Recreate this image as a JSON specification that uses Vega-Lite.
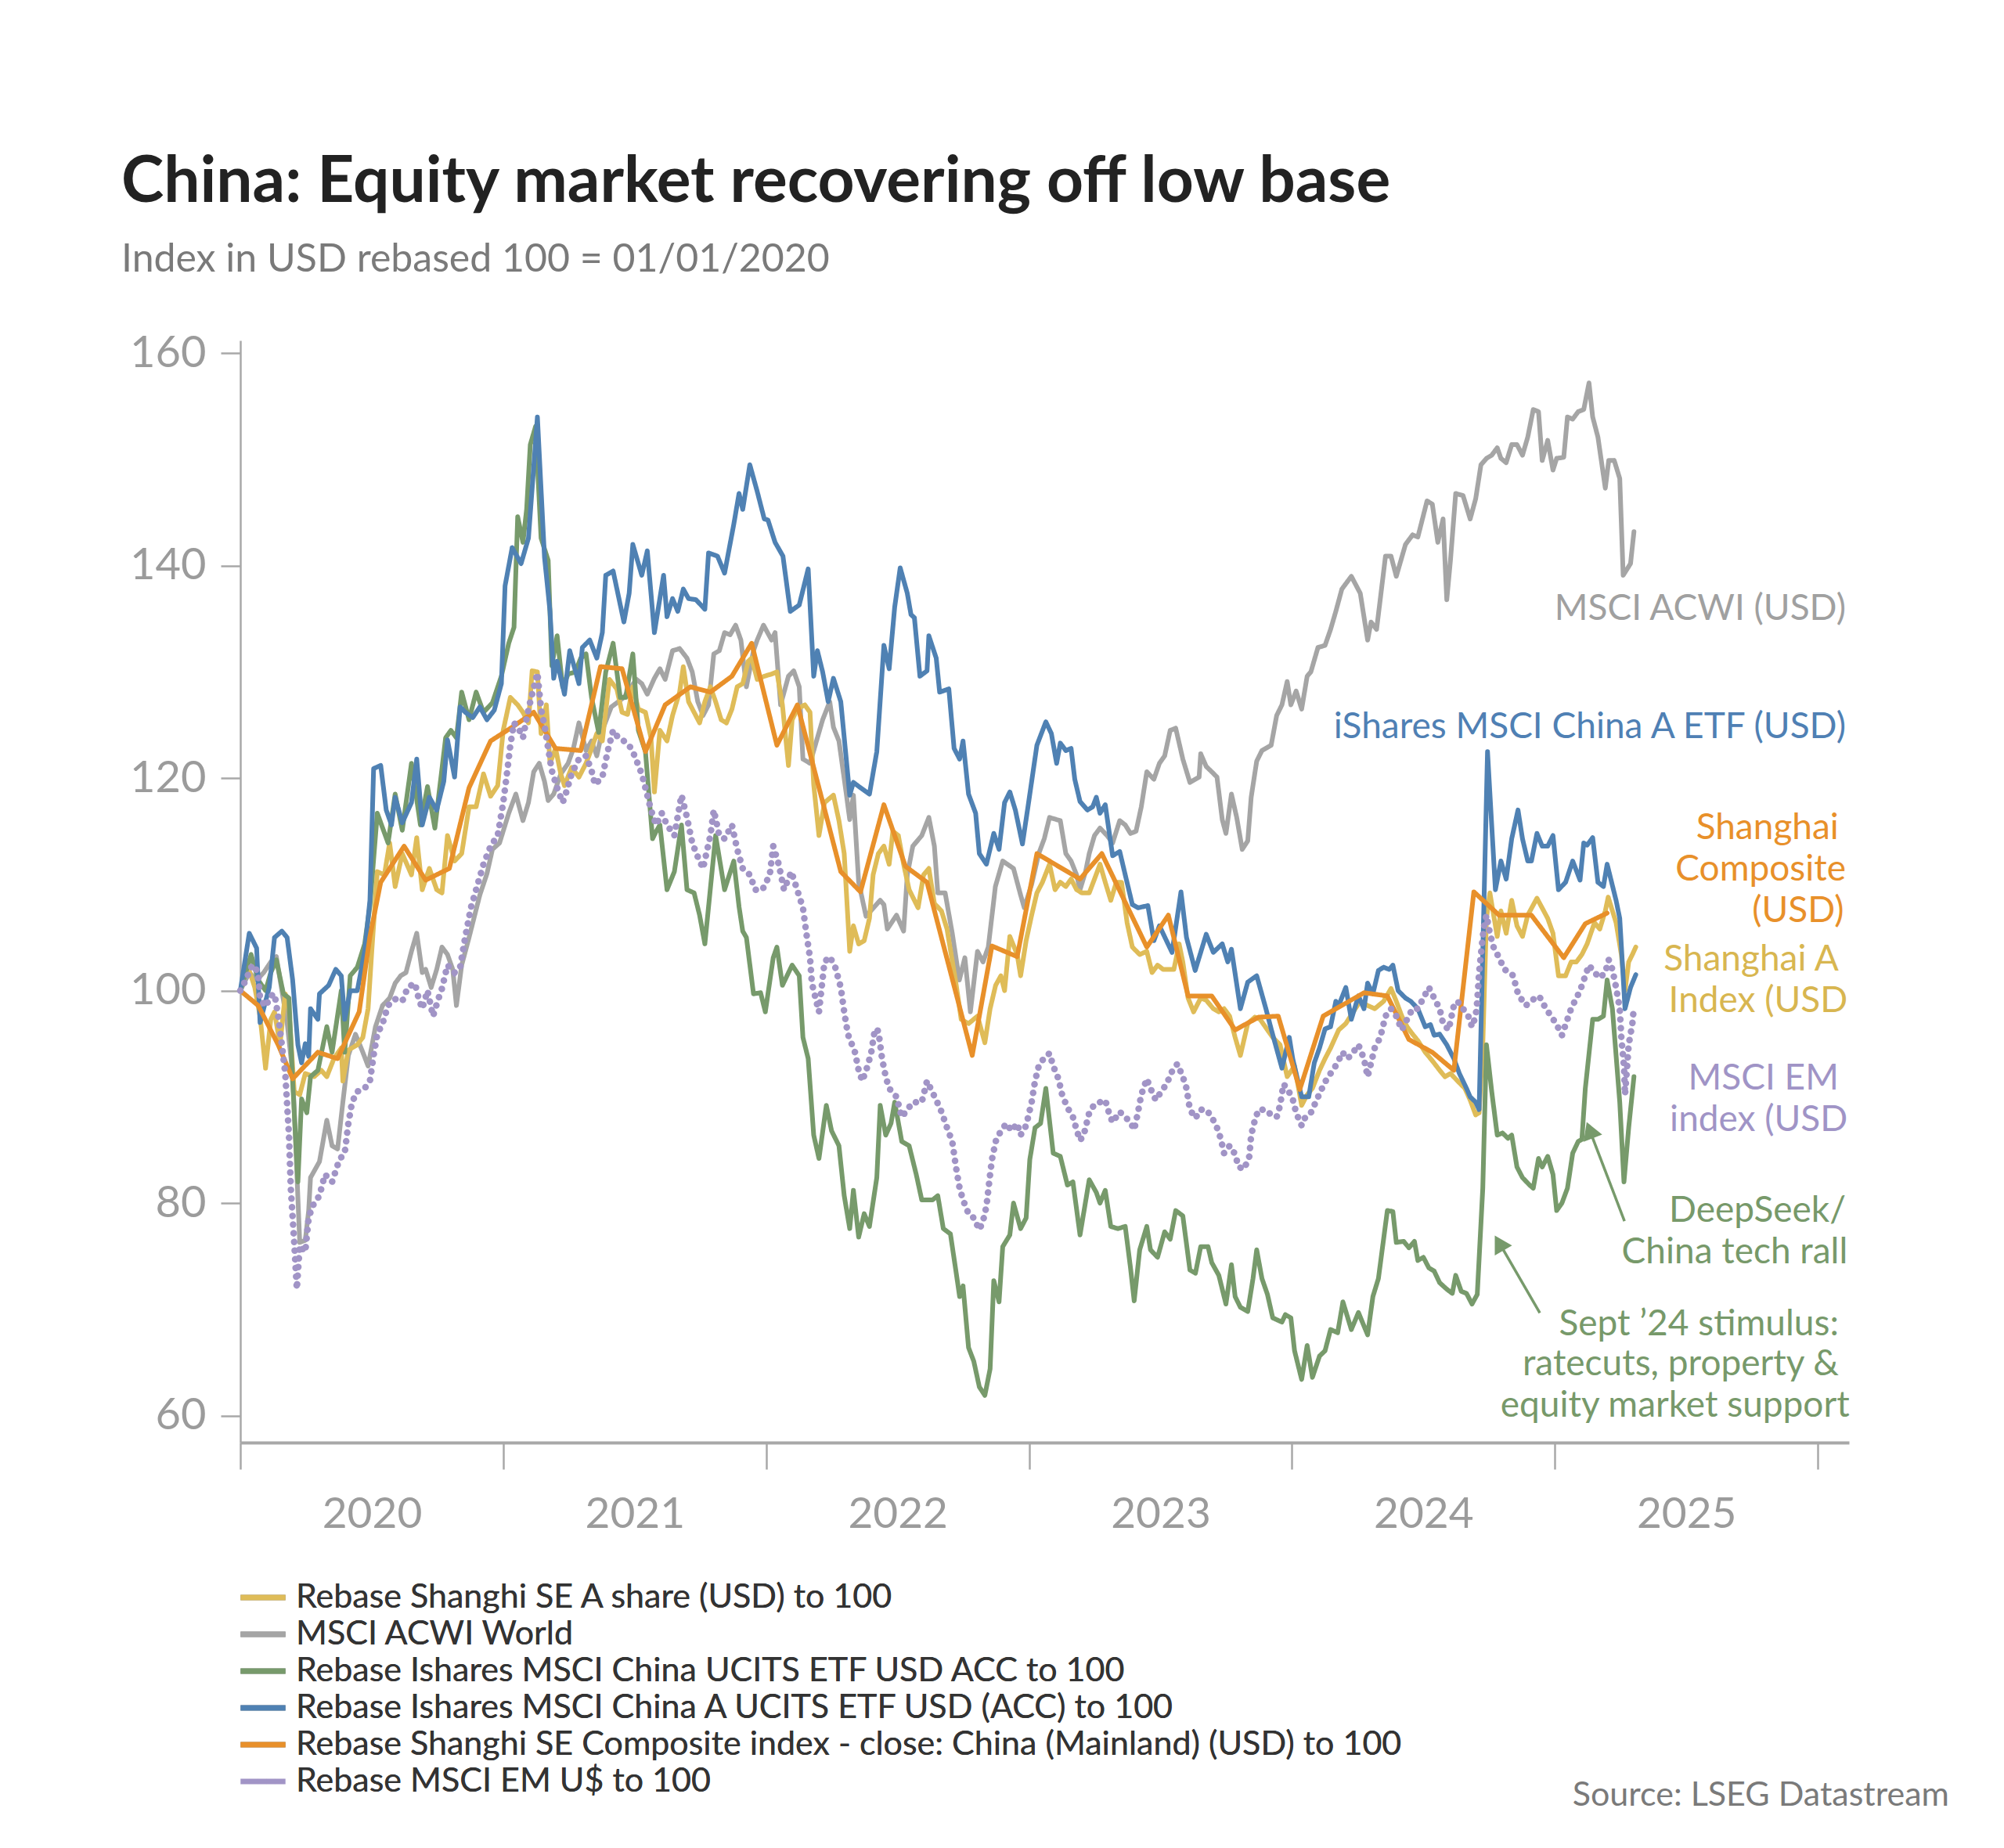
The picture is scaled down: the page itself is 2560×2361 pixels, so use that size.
{
  "$schema": "https://vega.github.io/schema/vega-lite/v6.json",
  "width": 2055,
  "height": 1408,
  "autosize": {"type": "none"},
  "padding": {"left": 307, "top": 435, "right": 198, "bottom": 518},
  "background": "white",
  "config": {"view": {"stroke": null}, "font": "Lato"},
  "title": {
    "text": "China: Equity market recovering off low base",
    "subtitle": "Index in USD rebased 100 = 01/01/2020",
    "anchor": "start",
    "frame": "group",
    "dx": -152,
    "offset": 65,
    "font": "Lato",
    "fontSize": 82,
    "fontWeight": "bold",
    "color": "#222222",
    "subtitleFont": "Lato",
    "subtitleFontSize": 50,
    "subtitleColor": "#7a7a7a",
    "subtitlePadding": 32
  },
  "datasets": {
    "series": [
      {"k":"gw","t":2020,"v":100},{"k":"gw","t":2020.034,"v":101.7},{"k":"gw","t":2020.062,"v":101},{"k":"gw","t":2020.089,"v":101.7},{"k":"gw","t":2020.116,"v":102.7},{"k":"gw","t":2020.137,"v":103.2},{"k":"gw","t":2020.158,"v":100},{"k":"gw","t":2020.178,"v":97},{"k":"gw","t":2020.199,"v":92.2},{"k":"gw","t":2020.212,"v":84.7},{"k":"gw","t":2020.226,"v":76.3},{"k":"gw","t":2020.247,"v":76.5},{"k":"gw","t":2020.26,"v":79.3},{"k":"gw","t":2020.267,"v":82.4},{"k":"gw","t":2020.301,"v":83.9},{"k":"gw","t":2020.329,"v":87.8},{"k":"gw","t":2020.349,"v":85.4},{"k":"gw","t":2020.37,"v":85.1},{"k":"gw","t":2020.39,"v":89.5},{"k":"gw","t":2020.411,"v":93.9},{"k":"gw","t":2020.438,"v":95.9},{"k":"gw","t":2020.466,"v":94.2},{"k":"gw","t":2020.486,"v":92.9},{"k":"gw","t":2020.514,"v":96.6},{"k":"gw","t":2020.541,"v":98.6},{"k":"gw","t":2020.568,"v":99.3},{"k":"gw","t":2020.589,"v":100.7},{"k":"gw","t":2020.61,"v":101.4},{"k":"gw","t":2020.63,"v":101.7},{"k":"gw","t":2020.651,"v":103.7},{"k":"gw","t":2020.671,"v":105.4},{"k":"gw","t":2020.692,"v":101.7},{"k":"gw","t":2020.705,"v":102},{"k":"gw","t":2020.726,"v":100.3},{"k":"gw","t":2020.747,"v":102},{"k":"gw","t":2020.767,"v":104.1},{"k":"gw","t":2020.788,"v":103.4},{"k":"gw","t":2020.808,"v":102},{"k":"gw","t":2020.822,"v":98.6},{"k":"gw","t":2020.842,"v":102.4},{"k":"gw","t":2020.87,"v":105},{"k":"gw","t":2020.911,"v":109},{"k":"gw","t":2020.938,"v":111},{"k":"gw","t":2020.959,"v":113.3},{"k":"gw","t":2020.986,"v":113.9},{"k":"gw","t":2021.021,"v":116.7},{"k":"gw","t":2021.048,"v":118.5},{"k":"gw","t":2021.075,"v":116},{"k":"gw","t":2021.096,"v":117.7},{"k":"gw","t":2021.116,"v":120.6},{"k":"gw","t":2021.137,"v":121.4},{"k":"gw","t":2021.157,"v":119.7},{"k":"gw","t":2021.171,"v":117.9},{"k":"gw","t":2021.192,"v":118.5},{"k":"gw","t":2021.219,"v":120.4},{"k":"gw","t":2021.247,"v":121.4},{"k":"gw","t":2021.267,"v":122.8},{"k":"gw","t":2021.288,"v":125.2},{"k":"gw","t":2021.315,"v":122.6},{"k":"gw","t":2021.336,"v":123.5},{"k":"gw","t":2021.356,"v":122.1},{"k":"gw","t":2021.377,"v":124.5},{"k":"gw","t":2021.411,"v":126.7},{"k":"gw","t":2021.438,"v":127.2},{"k":"gw","t":2021.459,"v":127.6},{"k":"gw","t":2021.486,"v":128.6},{"k":"gw","t":2021.507,"v":129.3},{"k":"gw","t":2021.527,"v":128.9},{"k":"gw","t":2021.548,"v":127.9},{"k":"gw","t":2021.575,"v":129.4},{"k":"gw","t":2021.596,"v":130.3},{"k":"gw","t":2021.616,"v":129.3},{"k":"gw","t":2021.644,"v":132},{"k":"gw","t":2021.671,"v":132.2},{"k":"gw","t":2021.699,"v":131.3},{"k":"gw","t":2021.719,"v":130},{"k":"gw","t":2021.74,"v":127.2},{"k":"gw","t":2021.76,"v":125.9},{"k":"gw","t":2021.781,"v":126.9},{"k":"gw","t":2021.801,"v":131.7},{"k":"gw","t":2021.822,"v":132},{"k":"gw","t":2021.842,"v":133.7},{"k":"gw","t":2021.863,"v":133.5},{"k":"gw","t":2021.884,"v":134.4},{"k":"gw","t":2021.904,"v":133},{"k":"gw","t":2021.925,"v":128.6},{"k":"gw","t":2021.952,"v":132},{"k":"gw","t":2021.966,"v":133},{"k":"gw","t":2021.99,"v":134.4},{"k":"gw","t":2022.021,"v":133},{"k":"gw","t":2022.034,"v":133.7},{"k":"gw","t":2022.055,"v":126.9},{"k":"gw","t":2022.085,"v":129.6},{"k":"gw","t":2022.105,"v":130.1},{"k":"gw","t":2022.126,"v":128.6},{"k":"gw","t":2022.14,"v":121.8},{"k":"gw","t":2022.167,"v":121.4},{"k":"gw","t":2022.215,"v":125.5},{"k":"gw","t":2022.242,"v":127.2},{"k":"gw","t":2022.256,"v":124.8},{"k":"gw","t":2022.277,"v":123.5},{"k":"gw","t":2022.304,"v":118.7},{"k":"gw","t":2022.318,"v":116.1},{"k":"gw","t":2022.332,"v":118.4},{"k":"gw","t":2022.352,"v":110.2},{"k":"gw","t":2022.38,"v":107},{"k":"gw","t":2022.434,"v":108.5},{"k":"gw","t":2022.448,"v":108.1},{"k":"gw","t":2022.461,"v":105.8},{"k":"gw","t":2022.496,"v":107.1},{"k":"gw","t":2022.523,"v":105.6},{"k":"gw","t":2022.537,"v":110.9},{"k":"gw","t":2022.558,"v":113.6},{"k":"gw","t":2022.592,"v":114.6},{"k":"gw","t":2022.619,"v":116.3},{"k":"gw","t":2022.64,"v":113.6},{"k":"gw","t":2022.653,"v":109.2},{"k":"gw","t":2022.681,"v":109.2},{"k":"gw","t":2022.708,"v":105.4},{"k":"gw","t":2022.735,"v":101},{"k":"gw","t":2022.756,"v":103.1},{"k":"gw","t":2022.777,"v":98},{"k":"gw","t":2022.804,"v":103.7},{"k":"gw","t":2022.825,"v":102.7},{"k":"gw","t":2022.845,"v":104.1},{"k":"gw","t":2022.866,"v":108.5},{"k":"gw","t":2022.872,"v":109.8},{"k":"gw","t":2022.9,"v":112.2},{"k":"gw","t":2022.941,"v":111.5},{"k":"gw","t":2022.968,"v":109},{"k":"gw","t":2022.982,"v":107.8},{"k":"gw","t":2023.01,"v":110},{"k":"gw","t":2023.037,"v":112.9},{"k":"gw","t":2023.058,"v":114.3},{"k":"gw","t":2023.078,"v":116.3},{"k":"gw","t":2023.119,"v":116},{"k":"gw","t":2023.14,"v":112.9},{"k":"gw","t":2023.16,"v":112.2},{"k":"gw","t":2023.181,"v":110.9},{"k":"gw","t":2023.194,"v":109.5},{"k":"gw","t":2023.215,"v":111.2},{"k":"gw","t":2023.229,"v":112.9},{"k":"gw","t":2023.249,"v":114.6},{"k":"gw","t":2023.27,"v":115.3},{"k":"gw","t":2023.297,"v":114.6},{"k":"gw","t":2023.318,"v":113.9},{"k":"gw","t":2023.345,"v":116},{"k":"gw","t":2023.366,"v":115.6},{"k":"gw","t":2023.386,"v":114.8},{"k":"gw","t":2023.407,"v":115},{"k":"gw","t":2023.427,"v":117.3},{"k":"gw","t":2023.448,"v":120.6},{"k":"gw","t":2023.475,"v":119.9},{"k":"gw","t":2023.496,"v":121.4},{"k":"gw","t":2023.516,"v":122.1},{"k":"gw","t":2023.537,"v":124.5},{"k":"gw","t":2023.558,"v":124.7},{"k":"gw","t":2023.585,"v":121.8},{"k":"gw","t":2023.612,"v":119.6},{"k":"gw","t":2023.647,"v":120.1},{"k":"gw","t":2023.653,"v":122.3},{"k":"gw","t":2023.674,"v":121.1},{"k":"gw","t":2023.695,"v":120.6},{"k":"gw","t":2023.715,"v":120.1},{"k":"gw","t":2023.735,"v":116.1},{"k":"gw","t":2023.749,"v":114.8},{"k":"gw","t":2023.77,"v":118.5},{"k":"gw","t":2023.79,"v":116.3},{"k":"gw","t":2023.811,"v":113.3},{"k":"gw","t":2023.832,"v":114.1},{"k":"gw","t":2023.845,"v":118.2},{"k":"gw","t":2023.866,"v":121.6},{"k":"gw","t":2023.886,"v":122.6},{"k":"gw","t":2023.921,"v":123.1},{"k":"gw","t":2023.942,"v":125.9},{"k":"gw","t":2023.962,"v":126.9},{"k":"gw","t":2023.982,"v":129.1},{"k":"gw","t":2023.996,"v":126.9},{"k":"gw","t":2024.016,"v":128.2},{"k":"gw","t":2024.037,"v":126.5},{"k":"gw","t":2024.058,"v":129.6},{"k":"gw","t":2024.072,"v":130},{"k":"gw","t":2024.099,"v":132.3},{"k":"gw","t":2024.126,"v":132.5},{"k":"gw","t":2024.147,"v":134},{"k":"gw","t":2024.167,"v":135.7},{"k":"gw","t":2024.19,"v":137.8},{"k":"gw","t":2024.226,"v":139},{"k":"gw","t":2024.26,"v":137.4},{"k":"gw","t":2024.288,"v":133},{"k":"gw","t":2024.301,"v":134.7},{"k":"gw","t":2024.322,"v":134},{"k":"gw","t":2024.356,"v":140.9},{"k":"gw","t":2024.377,"v":140.9},{"k":"gw","t":2024.397,"v":139},{"k":"gw","t":2024.432,"v":142},{"k":"gw","t":2024.459,"v":142.9},{"k":"gw","t":2024.479,"v":142.7},{"k":"gw","t":2024.514,"v":146.1},{"k":"gw","t":2024.534,"v":145.8},{"k":"gw","t":2024.555,"v":142.2},{"k":"gw","t":2024.575,"v":144.4},{"k":"gw","t":2024.589,"v":136.8},{"k":"gw","t":2024.603,"v":140.5},{"k":"gw","t":2024.623,"v":146.8},{"k":"gw","t":2024.651,"v":146.6},{"k":"gw","t":2024.678,"v":144.4},{"k":"gw","t":2024.699,"v":146.3},{"k":"gw","t":2024.719,"v":149.5},{"k":"gw","t":2024.74,"v":150.1},{"k":"gw","t":2024.76,"v":150.4},{"k":"gw","t":2024.781,"v":151.1},{"k":"gw","t":2024.795,"v":150.1},{"k":"gw","t":2024.815,"v":149.7},{"k":"gw","t":2024.836,"v":151.4},{"k":"gw","t":2024.856,"v":151.4},{"k":"gw","t":2024.877,"v":150.4},{"k":"gw","t":2024.897,"v":152.1},{"k":"gw","t":2024.918,"v":154.7},{"k":"gw","t":2024.938,"v":154.5},{"k":"gw","t":2024.952,"v":149.9},{"k":"gw","t":2024.973,"v":151.8},{"k":"gw","t":2024.993,"v":149},{"k":"gw","t":2025.007,"v":150.1},{"k":"gw","t":2025.034,"v":150.2},{"k":"gw","t":2025.048,"v":154},{"k":"gw","t":2025.068,"v":153.8},{"k":"gw","t":2025.089,"v":154.5},{"k":"gw","t":2025.11,"v":154.7},{"k":"gw","t":2025.13,"v":157.2},{"k":"gw","t":2025.144,"v":154},{"k":"gw","t":2025.164,"v":152.1},{"k":"gw","t":2025.192,"v":147.3},{"k":"gw","t":2025.205,"v":149.9},{"k":"gw","t":2025.226,"v":149.9},{"k":"gw","t":2025.247,"v":148.2},{"k":"gw","t":2025.26,"v":139.1},{"k":"gw","t":2025.288,"v":140.2},{"k":"gw","t":2025.301,"v":143.2},

      {"k":"ya","t":2020,"v":100},{"k":"ya","t":2020.027,"v":102.4},{"k":"ya","t":2020.055,"v":100.3},{"k":"ya","t":2020.075,"v":97.6},{"k":"ya","t":2020.096,"v":92.7},{"k":"ya","t":2020.116,"v":97.3},{"k":"ya","t":2020.13,"v":98},{"k":"ya","t":2020.151,"v":94.9},{"k":"ya","t":2020.171,"v":99.7},{"k":"ya","t":2020.185,"v":98.3},{"k":"ya","t":2020.205,"v":90.5},{"k":"ya","t":2020.226,"v":90.2},{"k":"ya","t":2020.247,"v":92.2},{"k":"ya","t":2020.281,"v":91.9},{"k":"ya","t":2020.308,"v":92.5},{"k":"ya","t":2020.329,"v":91.9},{"k":"ya","t":2020.356,"v":93.6},{"k":"ya","t":2020.384,"v":94.6},{"k":"ya","t":2020.39,"v":91.5},{"k":"ya","t":2020.411,"v":94.4},{"k":"ya","t":2020.445,"v":94.9},{"k":"ya","t":2020.466,"v":95.6},{"k":"ya","t":2020.486,"v":98.3},{"k":"ya","t":2020.5,"v":103.7},{"k":"ya","t":2020.521,"v":111.2},{"k":"ya","t":2020.548,"v":110.9},{"k":"ya","t":2020.568,"v":113.9},{"k":"ya","t":2020.589,"v":109.8},{"k":"ya","t":2020.616,"v":112.9},{"k":"ya","t":2020.651,"v":110.9},{"k":"ya","t":2020.671,"v":114.4},{"k":"ya","t":2020.692,"v":109.5},{"k":"ya","t":2020.719,"v":111.5},{"k":"ya","t":2020.747,"v":109.5},{"k":"ya","t":2020.767,"v":109.2},{"k":"ya","t":2020.788,"v":114.6},{"k":"ya","t":2020.815,"v":112.2},{"k":"ya","t":2020.842,"v":112.9},{"k":"ya","t":2020.87,"v":117.3},{"k":"ya","t":2020.897,"v":117.3},{"k":"ya","t":2020.925,"v":120.4},{"k":"ya","t":2020.952,"v":118.3},{"k":"ya","t":2020.979,"v":119.3},{"k":"ya","t":2021,"v":124.5},{"k":"ya","t":2021.027,"v":127.6},{"k":"ya","t":2021.055,"v":126.9},{"k":"ya","t":2021.075,"v":126.2},{"k":"ya","t":2021.096,"v":125.2},{"k":"ya","t":2021.11,"v":130.1},{"k":"ya","t":2021.13,"v":130},{"k":"ya","t":2021.144,"v":124.2},{"k":"ya","t":2021.164,"v":126.9},{"k":"ya","t":2021.178,"v":121.4},{"k":"ya","t":2021.199,"v":122.8},{"k":"ya","t":2021.219,"v":120.4},{"k":"ya","t":2021.233,"v":119.3},{"k":"ya","t":2021.26,"v":121},{"k":"ya","t":2021.288,"v":120.1},{"k":"ya","t":2021.315,"v":121.4},{"k":"ya","t":2021.329,"v":122.3},{"k":"ya","t":2021.356,"v":124.2},{"k":"ya","t":2021.377,"v":123.5},{"k":"ya","t":2021.404,"v":129.3},{"k":"ya","t":2021.432,"v":128.4},{"k":"ya","t":2021.452,"v":126.2},{"k":"ya","t":2021.473,"v":126},{"k":"ya","t":2021.493,"v":128.6},{"k":"ya","t":2021.514,"v":126.5},{"k":"ya","t":2021.541,"v":126.2},{"k":"ya","t":2021.562,"v":123.8},{"k":"ya","t":2021.575,"v":118.7},{"k":"ya","t":2021.596,"v":124.5},{"k":"ya","t":2021.623,"v":123.5},{"k":"ya","t":2021.644,"v":125.9},{"k":"ya","t":2021.671,"v":128.1},{"k":"ya","t":2021.685,"v":130.5},{"k":"ya","t":2021.705,"v":127.2},{"k":"ya","t":2021.726,"v":126.2},{"k":"ya","t":2021.747,"v":125.2},{"k":"ya","t":2021.767,"v":127.2},{"k":"ya","t":2021.788,"v":128.6},{"k":"ya","t":2021.808,"v":127.2},{"k":"ya","t":2021.829,"v":125.5},{"k":"ya","t":2021.849,"v":125.2},{"k":"ya","t":2021.87,"v":126.5},{"k":"ya","t":2021.89,"v":128.6},{"k":"ya","t":2021.911,"v":128.9},{"k":"ya","t":2021.932,"v":131},{"k":"ya","t":2021.945,"v":131.3},{"k":"ya","t":2021.966,"v":129.3},{"k":"ya","t":2021.993,"v":129.6},{"k":"ya","t":2022.021,"v":129.8},{"k":"ya","t":2022.041,"v":130},{"k":"ya","t":2022.062,"v":126.9},{"k":"ya","t":2022.085,"v":121.2},{"k":"ya","t":2022.099,"v":125.5},{"k":"ya","t":2022.119,"v":126.5},{"k":"ya","t":2022.147,"v":126.9},{"k":"ya","t":2022.167,"v":126.2},{"k":"ya","t":2022.181,"v":119.4},{"k":"ya","t":2022.201,"v":114.6},{"k":"ya","t":2022.222,"v":117.7},{"k":"ya","t":2022.256,"v":118.4},{"k":"ya","t":2022.277,"v":116},{"k":"ya","t":2022.297,"v":112.9},{"k":"ya","t":2022.318,"v":103.7},{"k":"ya","t":2022.332,"v":106.1},{"k":"ya","t":2022.352,"v":104.4},{"k":"ya","t":2022.373,"v":104.7},{"k":"ya","t":2022.393,"v":106.8},{"k":"ya","t":2022.407,"v":110.9},{"k":"ya","t":2022.427,"v":112.9},{"k":"ya","t":2022.448,"v":113.6},{"k":"ya","t":2022.468,"v":111.9},{"k":"ya","t":2022.482,"v":115},{"k":"ya","t":2022.503,"v":114.6},{"k":"ya","t":2022.523,"v":111.9},{"k":"ya","t":2022.544,"v":109.5},{"k":"ya","t":2022.578,"v":107.8},{"k":"ya","t":2022.599,"v":110.9},{"k":"ya","t":2022.619,"v":111.5},{"k":"ya","t":2022.64,"v":108.2},{"k":"ya","t":2022.667,"v":107.5},{"k":"ya","t":2022.688,"v":105.8},{"k":"ya","t":2022.722,"v":100.7},{"k":"ya","t":2022.742,"v":97.3},{"k":"ya","t":2022.77,"v":96.9},{"k":"ya","t":2022.804,"v":97.6},{"k":"ya","t":2022.832,"v":95.1},{"k":"ya","t":2022.852,"v":98.3},{"k":"ya","t":2022.873,"v":100.5},{"k":"ya","t":2022.893,"v":101.4},{"k":"ya","t":2022.907,"v":100},{"k":"ya","t":2022.927,"v":105.1},{"k":"ya","t":2022.955,"v":103.4},{"k":"ya","t":2022.968,"v":101.4},{"k":"ya","t":2022.989,"v":104.7},{"k":"ya","t":2023.01,"v":107.1},{"k":"ya","t":2023.03,"v":109.2},{"k":"ya","t":2023.051,"v":110.2},{"k":"ya","t":2023.078,"v":111.9},{"k":"ya","t":2023.099,"v":109.5},{"k":"ya","t":2023.119,"v":110.2},{"k":"ya","t":2023.14,"v":109.8},{"k":"ya","t":2023.16,"v":110.5},{"k":"ya","t":2023.181,"v":109.5},{"k":"ya","t":2023.201,"v":109.2},{"k":"ya","t":2023.229,"v":109.2},{"k":"ya","t":2023.249,"v":110.5},{"k":"ya","t":2023.27,"v":111.9},{"k":"ya","t":2023.29,"v":110.2},{"k":"ya","t":2023.311,"v":108.5},{"k":"ya","t":2023.332,"v":110.2},{"k":"ya","t":2023.352,"v":110.2},{"k":"ya","t":2023.373,"v":106.4},{"k":"ya","t":2023.393,"v":104.1},{"k":"ya","t":2023.421,"v":103.4},{"k":"ya","t":2023.448,"v":103.7},{"k":"ya","t":2023.468,"v":101.7},{"k":"ya","t":2023.489,"v":102.4},{"k":"ya","t":2023.51,"v":102},{"k":"ya","t":2023.551,"v":102},{"k":"ya","t":2023.571,"v":104.4},{"k":"ya","t":2023.585,"v":102.7},{"k":"ya","t":2023.605,"v":99.3},{"k":"ya","t":2023.626,"v":98},{"k":"ya","t":2023.653,"v":99.3},{"k":"ya","t":2023.674,"v":99.1},{"k":"ya","t":2023.701,"v":98.3},{"k":"ya","t":2023.722,"v":98},{"k":"ya","t":2023.742,"v":98.3},{"k":"ya","t":2023.763,"v":97.6},{"k":"ya","t":2023.784,"v":95.6},{"k":"ya","t":2023.804,"v":93.9},{"k":"ya","t":2023.832,"v":96.9},{"k":"ya","t":2023.859,"v":97.5},{"k":"ya","t":2023.879,"v":97.3},{"k":"ya","t":2023.907,"v":96.3},{"k":"ya","t":2023.927,"v":95.6},{"k":"ya","t":2023.955,"v":94.9},{"k":"ya","t":2023.982,"v":91.9},{"k":"ya","t":2024.01,"v":92.9},{"k":"ya","t":2024.037,"v":89.2},{"k":"ya","t":2024.058,"v":90.2},{"k":"ya","t":2024.078,"v":90.8},{"k":"ya","t":2024.105,"v":92.5},{"k":"ya","t":2024.126,"v":93.6},{"k":"ya","t":2024.147,"v":94.6},{"k":"ya","t":2024.178,"v":96.3},{"k":"ya","t":2024.205,"v":96.9},{"k":"ya","t":2024.233,"v":98},{"k":"ya","t":2024.26,"v":99},{"k":"ya","t":2024.288,"v":98.6},{"k":"ya","t":2024.315,"v":98.3},{"k":"ya","t":2024.349,"v":99},{"k":"ya","t":2024.377,"v":100.2},{"k":"ya","t":2024.397,"v":99},{"k":"ya","t":2024.418,"v":97.6},{"k":"ya","t":2024.438,"v":96.6},{"k":"ya","t":2024.459,"v":95.9},{"k":"ya","t":2024.479,"v":95.3},{"k":"ya","t":2024.507,"v":94.2},{"k":"ya","t":2024.534,"v":93.4},{"k":"ya","t":2024.562,"v":92.5},{"k":"ya","t":2024.582,"v":91.9},{"k":"ya","t":2024.603,"v":92.2},{"k":"ya","t":2024.63,"v":91.5},{"k":"ya","t":2024.658,"v":90.8},{"k":"ya","t":2024.678,"v":89.7},{"k":"ya","t":2024.699,"v":88.3},{"k":"ya","t":2024.712,"v":88.5},{"k":"ya","t":2024.726,"v":94.9},{"k":"ya","t":2024.74,"v":106.8},{"k":"ya","t":2024.753,"v":109.2},{"k":"ya","t":2024.781,"v":105.1},{"k":"ya","t":2024.795,"v":107.5},{"k":"ya","t":2024.815,"v":105.4},{"k":"ya","t":2024.836,"v":108.5},{"k":"ya","t":2024.856,"v":106.1},{"k":"ya","t":2024.877,"v":105.1},{"k":"ya","t":2024.897,"v":107.1},{"k":"ya","t":2024.932,"v":108.7},{"k":"ya","t":2024.973,"v":106.8},{"k":"ya","t":2024.993,"v":105.4},{"k":"ya","t":2025.014,"v":101.4},{"k":"ya","t":2025.041,"v":101.4},{"k":"ya","t":2025.062,"v":102.7},{"k":"ya","t":2025.082,"v":102.7},{"k":"ya","t":2025.103,"v":103.4},{"k":"ya","t":2025.123,"v":104.4},{"k":"ya","t":2025.151,"v":106.4},{"k":"ya","t":2025.171,"v":105.8},{"k":"ya","t":2025.192,"v":107.5},{"k":"ya","t":2025.203,"v":108.8},{"k":"ya","t":2025.233,"v":106.4},{"k":"ya","t":2025.253,"v":103.4},{"k":"ya","t":2025.267,"v":100},{"k":"ya","t":2025.281,"v":102.7},{"k":"ya","t":2025.295,"v":103.4},{"k":"ya","t":2025.308,"v":104.1},

      {"k":"gc","t":2020,"v":100},{"k":"gc","t":2020.041,"v":103.4},{"k":"gc","t":2020.068,"v":101},{"k":"gc","t":2020.096,"v":100},{"k":"gc","t":2020.116,"v":101.7},{"k":"gc","t":2020.137,"v":102.9},{"k":"gc","t":2020.164,"v":99.7},{"k":"gc","t":2020.185,"v":99.3},{"k":"gc","t":2020.199,"v":91.5},{"k":"gc","t":2020.219,"v":82},{"k":"gc","t":2020.233,"v":89.8},{"k":"gc","t":2020.253,"v":88.5},{"k":"gc","t":2020.267,"v":91.9},{"k":"gc","t":2020.295,"v":92.5},{"k":"gc","t":2020.329,"v":96.6},{"k":"gc","t":2020.349,"v":94.2},{"k":"gc","t":2020.384,"v":100},{"k":"gc","t":2020.397,"v":94.2},{"k":"gc","t":2020.418,"v":101.4},{"k":"gc","t":2020.445,"v":102.2},{"k":"gc","t":2020.473,"v":104.4},{"k":"gc","t":2020.493,"v":108},{"k":"gc","t":2020.521,"v":116.7},{"k":"gc","t":2020.562,"v":113.9},{"k":"gc","t":2020.589,"v":118.5},{"k":"gc","t":2020.616,"v":115.1},{"k":"gc","t":2020.651,"v":121.4},{"k":"gc","t":2020.685,"v":115.6},{"k":"gc","t":2020.712,"v":119.2},{"k":"gc","t":2020.74,"v":115.3},{"k":"gc","t":2020.781,"v":123.8},{"k":"gc","t":2020.801,"v":124.5},{"k":"gc","t":2020.822,"v":123.8},{"k":"gc","t":2020.842,"v":128.1},{"k":"gc","t":2020.87,"v":125.5},{"k":"gc","t":2020.897,"v":128.1},{"k":"gc","t":2020.925,"v":126.2},{"k":"gc","t":2020.959,"v":127.1},{"k":"gc","t":2020.993,"v":129.6},{"k":"gc","t":2021.021,"v":132.7},{"k":"gc","t":2021.041,"v":134.2},{"k":"gc","t":2021.055,"v":144.6},{"k":"gc","t":2021.075,"v":142.2},{"k":"gc","t":2021.089,"v":145.3},{"k":"gc","t":2021.103,"v":151.4},{"k":"gc","t":2021.123,"v":153.1},{"k":"gc","t":2021.144,"v":142.6},{"k":"gc","t":2021.171,"v":140.5},{"k":"gc","t":2021.185,"v":130.6},{"k":"gc","t":2021.205,"v":133.4},{"k":"gc","t":2021.226,"v":128.6},{"k":"gc","t":2021.247,"v":129.8},{"k":"gc","t":2021.274,"v":130},{"k":"gc","t":2021.295,"v":131.3},{"k":"gc","t":2021.315,"v":131.7},{"k":"gc","t":2021.336,"v":127.6},{"k":"gc","t":2021.363,"v":124.3},{"k":"gc","t":2021.39,"v":130},{"k":"gc","t":2021.418,"v":132.7},{"k":"gc","t":2021.445,"v":127.6},{"k":"gc","t":2021.466,"v":127.6},{"k":"gc","t":2021.493,"v":131.7},{"k":"gc","t":2021.514,"v":124.5},{"k":"gc","t":2021.541,"v":122.5},{"k":"gc","t":2021.568,"v":114.3},{"k":"gc","t":2021.582,"v":115},{"k":"gc","t":2021.596,"v":115.6},{"k":"gc","t":2021.623,"v":109.5},{"k":"gc","t":2021.651,"v":111.2},{"k":"gc","t":2021.678,"v":115.6},{"k":"gc","t":2021.699,"v":109.5},{"k":"gc","t":2021.726,"v":109.2},{"k":"gc","t":2021.747,"v":107.1},{"k":"gc","t":2021.767,"v":104.4},{"k":"gc","t":2021.808,"v":114.6},{"k":"gc","t":2021.842,"v":109.5},{"k":"gc","t":2021.877,"v":112.2},{"k":"gc","t":2021.897,"v":107.9},{"k":"gc","t":2021.911,"v":105.6},{"k":"gc","t":2021.925,"v":105},{"k":"gc","t":2021.952,"v":99.7},{"k":"gc","t":2021.979,"v":99.8},{"k":"gc","t":2021.997,"v":98},{"k":"gc","t":2022.027,"v":103.1},{"k":"gc","t":2022.041,"v":104.1},{"k":"gc","t":2022.062,"v":100.5},{"k":"gc","t":2022.099,"v":102.4},{"k":"gc","t":2022.126,"v":101.4},{"k":"gc","t":2022.14,"v":95.6},{"k":"gc","t":2022.16,"v":93.6},{"k":"gc","t":2022.181,"v":86.4},{"k":"gc","t":2022.201,"v":84.2},{"k":"gc","t":2022.229,"v":89.2},{"k":"gc","t":2022.249,"v":86.8},{"k":"gc","t":2022.277,"v":85.4},{"k":"gc","t":2022.297,"v":80.7},{"k":"gc","t":2022.318,"v":77.6},{"k":"gc","t":2022.332,"v":81.2},{"k":"gc","t":2022.352,"v":76.8},{"k":"gc","t":2022.373,"v":79},{"k":"gc","t":2022.393,"v":77.8},{"k":"gc","t":2022.421,"v":82.4},{"k":"gc","t":2022.434,"v":89.2},{"k":"gc","t":2022.455,"v":86.4},{"k":"gc","t":2022.475,"v":87.5},{"k":"gc","t":2022.489,"v":89.5},{"k":"gc","t":2022.516,"v":85.8},{"k":"gc","t":2022.544,"v":85.4},{"k":"gc","t":2022.571,"v":82.7},{"k":"gc","t":2022.592,"v":80.3},{"k":"gc","t":2022.633,"v":80.3},{"k":"gc","t":2022.653,"v":80.7},{"k":"gc","t":2022.674,"v":77.6},{"k":"gc","t":2022.701,"v":77.1},{"k":"gc","t":2022.722,"v":73.6},{"k":"gc","t":2022.736,"v":71.2},{"k":"gc","t":2022.749,"v":72.2},{"k":"gc","t":2022.77,"v":66.4},{"k":"gc","t":2022.79,"v":65.1},{"k":"gc","t":2022.811,"v":62.7},{"k":"gc","t":2022.832,"v":61.9},{"k":"gc","t":2022.852,"v":64.4},{"k":"gc","t":2022.866,"v":72.7},{"k":"gc","t":2022.886,"v":70.7},{"k":"gc","t":2022.9,"v":75.9},{"k":"gc","t":2022.927,"v":77},{"k":"gc","t":2022.941,"v":80},{"k":"gc","t":2022.968,"v":77.6},{"k":"gc","t":2022.989,"v":78.6},{"k":"gc","t":2023.003,"v":84.1},{"k":"gc","t":2023.023,"v":87.1},{"k":"gc","t":2023.044,"v":87.5},{"k":"gc","t":2023.064,"v":90.8},{"k":"gc","t":2023.092,"v":84.7},{"k":"gc","t":2023.119,"v":84.4},{"k":"gc","t":2023.146,"v":81.7},{"k":"gc","t":2023.167,"v":82},{"k":"gc","t":2023.194,"v":77},{"k":"gc","t":2023.229,"v":82.2},{"k":"gc","t":2023.256,"v":81},{"k":"gc","t":2023.27,"v":80},{"k":"gc","t":2023.29,"v":81.2},{"k":"gc","t":2023.311,"v":77.8},{"k":"gc","t":2023.338,"v":77.6},{"k":"gc","t":2023.366,"v":77.8},{"k":"gc","t":2023.386,"v":73.9},{"k":"gc","t":2023.4,"v":70.8},{"k":"gc","t":2023.421,"v":75.6},{"k":"gc","t":2023.448,"v":77.8},{"k":"gc","t":2023.462,"v":75.6},{"k":"gc","t":2023.489,"v":74.9},{"k":"gc","t":2023.516,"v":77.3},{"k":"gc","t":2023.537,"v":76.6},{"k":"gc","t":2023.558,"v":79.3},{"k":"gc","t":2023.585,"v":78.8},{"k":"gc","t":2023.612,"v":73.7},{"k":"gc","t":2023.633,"v":73.4},{"k":"gc","t":2023.653,"v":75.9},{"k":"gc","t":2023.681,"v":75.9},{"k":"gc","t":2023.695,"v":74.4},{"k":"gc","t":2023.722,"v":73.2},{"k":"gc","t":2023.749,"v":70.5},{"k":"gc","t":2023.77,"v":74.2},{"k":"gc","t":2023.784,"v":71.2},{"k":"gc","t":2023.804,"v":70.2},{"k":"gc","t":2023.832,"v":69.8},{"k":"gc","t":2023.852,"v":72.9},{"k":"gc","t":2023.866,"v":75.6},{"k":"gc","t":2023.886,"v":72.9},{"k":"gc","t":2023.907,"v":71.4},{"k":"gc","t":2023.927,"v":69.2},{"k":"gc","t":2023.962,"v":68.8},{"k":"gc","t":2023.975,"v":69.5},{"k":"gc","t":2023.996,"v":69.2},{"k":"gc","t":2024.01,"v":66.1},{"k":"gc","t":2024.037,"v":63.4},{"k":"gc","t":2024.058,"v":66.6},{"k":"gc","t":2024.078,"v":63.6},{"k":"gc","t":2024.105,"v":65.6},{"k":"gc","t":2024.126,"v":66.1},{"k":"gc","t":2024.147,"v":68.1},{"k":"gc","t":2024.174,"v":67.8},{"k":"gc","t":2024.194,"v":70.7},{"k":"gc","t":2024.226,"v":68.1},{"k":"gc","t":2024.253,"v":69.7},{"k":"gc","t":2024.288,"v":67.6},{"k":"gc","t":2024.308,"v":71.2},{"k":"gc","t":2024.329,"v":72.9},{"k":"gc","t":2024.363,"v":79.3},{"k":"gc","t":2024.384,"v":79.2},{"k":"gc","t":2024.397,"v":76.3},{"k":"gc","t":2024.425,"v":76.4},{"k":"gc","t":2024.445,"v":75.8},{"k":"gc","t":2024.466,"v":76.4},{"k":"gc","t":2024.479,"v":74.6},{"k":"gc","t":2024.5,"v":74.9},{"k":"gc","t":2024.521,"v":73.9},{"k":"gc","t":2024.541,"v":73.6},{"k":"gc","t":2024.562,"v":72.5},{"k":"gc","t":2024.589,"v":71.9},{"k":"gc","t":2024.61,"v":71.5},{"k":"gc","t":2024.623,"v":73.2},{"k":"gc","t":2024.644,"v":71.7},{"k":"gc","t":2024.664,"v":71.5},{"k":"gc","t":2024.685,"v":70.5},{"k":"gc","t":2024.705,"v":71.4},{"k":"gc","t":2024.726,"v":81.4},{"k":"gc","t":2024.74,"v":94.9},{"k":"gc","t":2024.76,"v":90.5},{"k":"gc","t":2024.781,"v":86.4},{"k":"gc","t":2024.801,"v":86.6},{"k":"gc","t":2024.822,"v":86.1},{"k":"gc","t":2024.836,"v":86.4},{"k":"gc","t":2024.856,"v":83.4},{"k":"gc","t":2024.877,"v":82.4},{"k":"gc","t":2024.904,"v":81.7},{"k":"gc","t":2024.918,"v":81.4},{"k":"gc","t":2024.938,"v":84.2},{"k":"gc","t":2024.952,"v":83.4},{"k":"gc","t":2024.973,"v":84.4},{"k":"gc","t":2024.993,"v":82.7},{"k":"gc","t":2025.007,"v":79.3},{"k":"gc","t":2025.027,"v":80},{"k":"gc","t":2025.048,"v":81.4},{"k":"gc","t":2025.068,"v":84.7},{"k":"gc","t":2025.089,"v":85.8},{"k":"gc","t":2025.103,"v":86},{"k":"gc","t":2025.116,"v":90.8},{"k":"gc","t":2025.144,"v":97.3},{"k":"gc","t":2025.164,"v":97.3},{"k":"gc","t":2025.185,"v":97.6},{"k":"gc","t":2025.199,"v":101},{"k":"gc","t":2025.219,"v":98.3},{"k":"gc","t":2025.247,"v":89.5},{"k":"gc","t":2025.263,"v":82},{"k":"gc","t":2025.281,"v":87.1},{"k":"gc","t":2025.301,"v":91.9},

      {"k":"ba","t":2020,"v":100},{"k":"ba","t":2020.034,"v":105.4},{"k":"ba","t":2020.062,"v":104},{"k":"ba","t":2020.075,"v":97},{"k":"ba","t":2020.11,"v":100.3},{"k":"ba","t":2020.13,"v":105},{"k":"ba","t":2020.158,"v":105.6},{"k":"ba","t":2020.178,"v":105},{"k":"ba","t":2020.199,"v":101},{"k":"ba","t":2020.219,"v":94.9},{"k":"ba","t":2020.233,"v":93.2},{"k":"ba","t":2020.247,"v":95},{"k":"ba","t":2020.26,"v":93.8},{"k":"ba","t":2020.267,"v":98.3},{"k":"ba","t":2020.295,"v":97.3},{"k":"ba","t":2020.301,"v":99.7},{"k":"ba","t":2020.336,"v":100.5},{"k":"ba","t":2020.363,"v":102},{"k":"ba","t":2020.384,"v":101.4},{"k":"ba","t":2020.397,"v":97.3},{"k":"ba","t":2020.418,"v":100},{"k":"ba","t":2020.445,"v":100},{"k":"ba","t":2020.473,"v":103.7},{"k":"ba","t":2020.493,"v":108.5},{"k":"ba","t":2020.507,"v":120.9},{"k":"ba","t":2020.534,"v":121.2},{"k":"ba","t":2020.555,"v":117},{"k":"ba","t":2020.575,"v":115.6},{"k":"ba","t":2020.589,"v":118.2},{"k":"ba","t":2020.616,"v":115.8},{"k":"ba","t":2020.651,"v":117.7},{"k":"ba","t":2020.671,"v":121.8},{"k":"ba","t":2020.692,"v":115.6},{"k":"ba","t":2020.719,"v":118.2},{"k":"ba","t":2020.747,"v":117},{"k":"ba","t":2020.774,"v":119.7},{"k":"ba","t":2020.788,"v":123.6},{"k":"ba","t":2020.815,"v":120.1},{"k":"ba","t":2020.836,"v":126.7},{"k":"ba","t":2020.856,"v":126.2},{"k":"ba","t":2020.884,"v":125.7},{"k":"ba","t":2020.911,"v":126.7},{"k":"ba","t":2020.938,"v":125.5},{"k":"ba","t":2020.966,"v":126.4},{"k":"ba","t":2020.993,"v":128.9},{"k":"ba","t":2021.007,"v":138.1},{"k":"ba","t":2021.034,"v":141.7},{"k":"ba","t":2021.068,"v":140.2},{"k":"ba","t":2021.096,"v":142.6},{"k":"ba","t":2021.13,"v":154},{"k":"ba","t":2021.157,"v":140.8},{"k":"ba","t":2021.178,"v":135.7},{"k":"ba","t":2021.192,"v":129.4},{"k":"ba","t":2021.205,"v":131},{"k":"ba","t":2021.233,"v":127.9},{"k":"ba","t":2021.253,"v":132},{"k":"ba","t":2021.288,"v":128.9},{"k":"ba","t":2021.301,"v":132.3},{"k":"ba","t":2021.329,"v":133},{"k":"ba","t":2021.356,"v":131.3},{"k":"ba","t":2021.377,"v":133.7},{"k":"ba","t":2021.39,"v":139.1},{"k":"ba","t":2021.418,"v":139.5},{"k":"ba","t":2021.459,"v":134.7},{"k":"ba","t":2021.479,"v":137.4},{"k":"ba","t":2021.493,"v":142},{"k":"ba","t":2021.527,"v":139.1},{"k":"ba","t":2021.548,"v":141.4},{"k":"ba","t":2021.575,"v":133.7},{"k":"ba","t":2021.61,"v":139.1},{"k":"ba","t":2021.623,"v":135.2},{"k":"ba","t":2021.644,"v":136.9},{"k":"ba","t":2021.664,"v":135.7},{"k":"ba","t":2021.685,"v":137.8},{"k":"ba","t":2021.705,"v":136.9},{"k":"ba","t":2021.733,"v":136.8},{"k":"ba","t":2021.767,"v":135.9},{"k":"ba","t":2021.781,"v":141.2},{"k":"ba","t":2021.815,"v":140.9},{"k":"ba","t":2021.842,"v":139.3},{"k":"ba","t":2021.877,"v":143.9},{"k":"ba","t":2021.897,"v":146.8},{"k":"ba","t":2021.911,"v":145.3},{"k":"ba","t":2021.938,"v":149.5},{"k":"ba","t":2021.966,"v":147},{"k":"ba","t":2021.993,"v":144.4},{"k":"ba","t":2022.007,"v":144.3},{"k":"ba","t":2022.034,"v":142.2},{"k":"ba","t":2022.064,"v":140.9},{"k":"ba","t":2022.092,"v":135.7},{"k":"ba","t":2022.126,"v":136.3},{"k":"ba","t":2022.16,"v":139.7},{"k":"ba","t":2022.181,"v":129.6},{"k":"ba","t":2022.195,"v":132},{"k":"ba","t":2022.215,"v":130},{"k":"ba","t":2022.236,"v":127.2},{"k":"ba","t":2022.256,"v":129.4},{"k":"ba","t":2022.284,"v":127.2},{"k":"ba","t":2022.318,"v":118.4},{"k":"ba","t":2022.332,"v":119.6},{"k":"ba","t":2022.359,"v":119.1},{"k":"ba","t":2022.393,"v":118.5},{"k":"ba","t":2022.421,"v":122.5},{"k":"ba","t":2022.448,"v":132.5},{"k":"ba","t":2022.468,"v":130.3},{"k":"ba","t":2022.489,"v":136.1},{"k":"ba","t":2022.51,"v":139.8},{"k":"ba","t":2022.537,"v":137.4},{"k":"ba","t":2022.551,"v":135.4},{"k":"ba","t":2022.564,"v":135.1},{"k":"ba","t":2022.585,"v":129.6},{"k":"ba","t":2022.612,"v":130.1},{"k":"ba","t":2022.619,"v":133.4},{"k":"ba","t":2022.647,"v":131.3},{"k":"ba","t":2022.66,"v":128.1},{"k":"ba","t":2022.695,"v":128.4},{"k":"ba","t":2022.715,"v":122.8},{"k":"ba","t":2022.736,"v":121.8},{"k":"ba","t":2022.749,"v":123.5},{"k":"ba","t":2022.77,"v":118.5},{"k":"ba","t":2022.797,"v":116.7},{"k":"ba","t":2022.811,"v":112.9},{"k":"ba","t":2022.838,"v":111.9},{"k":"ba","t":2022.866,"v":114.8},{"k":"ba","t":2022.886,"v":113.3},{"k":"ba","t":2022.907,"v":117.7},{"k":"ba","t":2022.927,"v":118.7},{"k":"ba","t":2022.948,"v":117},{"k":"ba","t":2022.975,"v":113.8},{"k":"ba","t":2022.996,"v":117.3},{"k":"ba","t":2023.03,"v":123.1},{"k":"ba","t":2023.064,"v":125.3},{"k":"ba","t":2023.085,"v":124.2},{"k":"ba","t":2023.105,"v":121.4},{"k":"ba","t":2023.119,"v":123.3},{"k":"ba","t":2023.14,"v":122.6},{"k":"ba","t":2023.16,"v":122.8},{"k":"ba","t":2023.174,"v":119.9},{"k":"ba","t":2023.194,"v":117.8},{"k":"ba","t":2023.222,"v":117},{"k":"ba","t":2023.242,"v":117.3},{"k":"ba","t":2023.256,"v":118.2},{"k":"ba","t":2023.27,"v":116.7},{"k":"ba","t":2023.29,"v":117.5},{"k":"ba","t":2023.318,"v":112.7},{"k":"ba","t":2023.345,"v":113.1},{"k":"ba","t":2023.366,"v":110.9},{"k":"ba","t":2023.393,"v":108.1},{"k":"ba","t":2023.415,"v":107.8},{"k":"ba","t":2023.452,"v":108},{"k":"ba","t":2023.475,"v":104.7},{"k":"ba","t":2023.496,"v":106.1},{"k":"ba","t":2023.544,"v":103.6},{"k":"ba","t":2023.578,"v":109.3},{"k":"ba","t":2023.599,"v":105},{"k":"ba","t":2023.632,"v":101.9},{"k":"ba","t":2023.674,"v":105.3},{"k":"ba","t":2023.701,"v":103.6},{"k":"ba","t":2023.735,"v":104.4},{"k":"ba","t":2023.756,"v":102.7},{"k":"ba","t":2023.77,"v":103.9},{"k":"ba","t":2023.804,"v":98.3},{"k":"ba","t":2023.832,"v":100.8},{"k":"ba","t":2023.866,"v":101.4},{"k":"ba","t":2023.901,"v":98.3},{"k":"ba","t":2023.921,"v":96.4},{"k":"ba","t":2023.962,"v":92.7},{"k":"ba","t":2023.99,"v":95.6},{"k":"ba","t":2024.003,"v":93.6},{"k":"ba","t":2024.037,"v":90},{"k":"ba","t":2024.064,"v":90},{"k":"ba","t":2024.085,"v":93.2},{"k":"ba","t":2024.105,"v":94.6},{"k":"ba","t":2024.126,"v":96.4},{"k":"ba","t":2024.147,"v":96.6},{"k":"ba","t":2024.167,"v":99},{"k":"ba","t":2024.178,"v":98.6},{"k":"ba","t":2024.205,"v":100.3},{"k":"ba","t":2024.226,"v":97.3},{"k":"ba","t":2024.253,"v":99.5},{"k":"ba","t":2024.274,"v":98.3},{"k":"ba","t":2024.288,"v":100.7},{"k":"ba","t":2024.308,"v":99.7},{"k":"ba","t":2024.329,"v":101.9},{"k":"ba","t":2024.349,"v":102.2},{"k":"ba","t":2024.37,"v":102},{"k":"ba","t":2024.384,"v":102.4},{"k":"ba","t":2024.404,"v":100},{"k":"ba","t":2024.432,"v":99.3},{"k":"ba","t":2024.452,"v":99},{"k":"ba","t":2024.479,"v":98.3},{"k":"ba","t":2024.507,"v":96.6},{"k":"ba","t":2024.527,"v":96.8},{"k":"ba","t":2024.541,"v":95.8},{"k":"ba","t":2024.562,"v":95.9},{"k":"ba","t":2024.589,"v":94.9},{"k":"ba","t":2024.616,"v":93.6},{"k":"ba","t":2024.637,"v":92.2},{"k":"ba","t":2024.664,"v":90.8},{"k":"ba","t":2024.678,"v":90},{"k":"ba","t":2024.699,"v":89.5},{"k":"ba","t":2024.712,"v":88.8},{"k":"ba","t":2024.744,"v":122.5},{"k":"ba","t":2024.774,"v":109.5},{"k":"ba","t":2024.795,"v":112.2},{"k":"ba","t":2024.815,"v":110.5},{"k":"ba","t":2024.836,"v":114.3},{"k":"ba","t":2024.86,"v":117},{"k":"ba","t":2024.877,"v":114.3},{"k":"ba","t":2024.897,"v":112.2},{"k":"ba","t":2024.911,"v":112.2},{"k":"ba","t":2024.932,"v":114.8},{"k":"ba","t":2024.952,"v":113.6},{"k":"ba","t":2024.973,"v":113.6},{"k":"ba","t":2024.993,"v":114.6},{"k":"ba","t":2025.014,"v":109.5},{"k":"ba","t":2025.041,"v":110.2},{"k":"ba","t":2025.068,"v":112.2},{"k":"ba","t":2025.096,"v":110.4},{"k":"ba","t":2025.11,"v":113.9},{"k":"ba","t":2025.123,"v":113.7},{"k":"ba","t":2025.144,"v":114.4},{"k":"ba","t":2025.164,"v":110.2},{"k":"ba","t":2025.185,"v":109.8},{"k":"ba","t":2025.199,"v":111.9},{"k":"ba","t":2025.233,"v":108.5},{"k":"ba","t":2025.247,"v":106.8},{"k":"ba","t":2025.267,"v":98.3},{"k":"ba","t":2025.288,"v":100.3},{"k":"ba","t":2025.308,"v":101.5},

      {"k":"oc","t":2020,"v":100},{"k":"oc","t":2020.068,"v":98.6},{"k":"oc","t":2020.144,"v":94.9},{"k":"oc","t":2020.199,"v":91.7},{"k":"oc","t":2020.295,"v":94.2},{"k":"oc","t":2020.37,"v":93.6},{"k":"oc","t":2020.452,"v":98},{"k":"oc","t":2020.493,"v":105.1},{"k":"oc","t":2020.534,"v":110.2},{"k":"oc","t":2020.623,"v":113.6},{"k":"oc","t":2020.705,"v":110.4},{"k":"oc","t":2020.795,"v":111.5},{"k":"oc","t":2020.87,"v":119.1},{"k":"oc","t":2020.952,"v":123.5},{"k":"oc","t":2021.034,"v":124.8},{"k":"oc","t":2021.116,"v":126.2},{"k":"oc","t":2021.199,"v":122.8},{"k":"oc","t":2021.295,"v":122.6},{"k":"oc","t":2021.37,"v":130.5},{"k":"oc","t":2021.452,"v":130.3},{"k":"oc","t":2021.541,"v":122.5},{"k":"oc","t":2021.616,"v":126.9},{"k":"oc","t":2021.712,"v":128.6},{"k":"oc","t":2021.788,"v":128.1},{"k":"oc","t":2021.87,"v":129.6},{"k":"oc","t":2021.945,"v":132.7},{"k":"oc","t":2022.041,"v":123.1},{"k":"oc","t":2022.119,"v":126.9},{"k":"oc","t":2022.201,"v":119.1},{"k":"oc","t":2022.284,"v":111.2},{"k":"oc","t":2022.359,"v":109.3},{"k":"oc","t":2022.448,"v":117.5},{"k":"oc","t":2022.53,"v":111.7},{"k":"oc","t":2022.612,"v":110.2},{"k":"oc","t":2022.784,"v":93.9},{"k":"oc","t":2022.859,"v":104.2},{"k":"oc","t":2022.955,"v":103.2},{"k":"oc","t":2023.03,"v":112.9},{"k":"oc","t":2023.194,"v":110.5},{"k":"oc","t":2023.277,"v":112.9},{"k":"oc","t":2023.448,"v":104.1},{"k":"oc","t":2023.53,"v":107.1},{"k":"oc","t":2023.605,"v":99.5},{"k":"oc","t":2023.695,"v":99.5},{"k":"oc","t":2023.784,"v":96.3},{"k":"oc","t":2023.873,"v":97.5},{"k":"oc","t":2023.948,"v":97.6},{"k":"oc","t":2024.03,"v":90.7},{"k":"oc","t":2024.119,"v":97.6},{"k":"oc","t":2024.274,"v":99.8},{"k":"oc","t":2024.363,"v":99.5},{"k":"oc","t":2024.445,"v":95.4},{"k":"oc","t":2024.534,"v":94.2},{"k":"oc","t":2024.616,"v":92.5},{"k":"oc","t":2024.692,"v":109.3},{"k":"oc","t":2024.788,"v":107.1},{"k":"oc","t":2024.911,"v":107.1},{"k":"oc","t":2025.034,"v":103.1},{"k":"oc","t":2025.116,"v":106.3},{"k":"oc","t":2025.199,"v":107.3},

      {"k":"pe","t":2020,"v":100},{"k":"pe","t":2020.021,"v":101},{"k":"pe","t":2020.041,"v":102.2},{"k":"pe","t":2020.055,"v":102.4},{"k":"pe","t":2020.068,"v":101.4},{"k":"pe","t":2020.075,"v":99.3},{"k":"pe","t":2020.096,"v":98.5},{"k":"pe","t":2020.116,"v":99.5},{"k":"pe","t":2020.13,"v":99.7},{"k":"pe","t":2020.144,"v":97.6},{"k":"pe","t":2020.158,"v":94.9},{"k":"pe","t":2020.171,"v":92.2},{"k":"pe","t":2020.185,"v":86.4},{"k":"pe","t":2020.192,"v":81.4},{"k":"pe","t":2020.205,"v":76.3},{"k":"pe","t":2020.215,"v":71.9},{"k":"pe","t":2020.226,"v":76},{"k":"pe","t":2020.247,"v":75.4},{"k":"pe","t":2020.26,"v":78.6},{"k":"pe","t":2020.274,"v":79.7},{"k":"pe","t":2020.301,"v":80.7},{"k":"pe","t":2020.322,"v":82.7},{"k":"pe","t":2020.349,"v":82},{"k":"pe","t":2020.377,"v":84.1},{"k":"pe","t":2020.397,"v":84.7},{"k":"pe","t":2020.411,"v":87.5},{"k":"pe","t":2020.425,"v":89.5},{"k":"pe","t":2020.445,"v":90.5},{"k":"pe","t":2020.473,"v":90.8},{"k":"pe","t":2020.493,"v":91.5},{"k":"pe","t":2020.507,"v":93.9},{"k":"pe","t":2020.521,"v":95.9},{"k":"pe","t":2020.541,"v":96.9},{"k":"pe","t":2020.562,"v":98.6},{"k":"pe","t":2020.589,"v":99.2},{"k":"pe","t":2020.616,"v":99},{"k":"pe","t":2020.637,"v":100.3},{"k":"pe","t":2020.664,"v":100.7},{"k":"pe","t":2020.678,"v":99.3},{"k":"pe","t":2020.692,"v":98.3},{"k":"pe","t":2020.712,"v":100},{"k":"pe","t":2020.733,"v":97.6},{"k":"pe","t":2020.753,"v":99.2},{"k":"pe","t":2020.767,"v":100.2},{"k":"pe","t":2020.788,"v":102.4},{"k":"pe","t":2020.815,"v":101.7},{"k":"pe","t":2020.836,"v":102.2},{"k":"pe","t":2020.856,"v":105.1},{"k":"pe","t":2020.877,"v":107.8},{"k":"pe","t":2020.925,"v":111.9},{"k":"pe","t":2020.952,"v":113.6},{"k":"pe","t":2020.979,"v":114.6},{"k":"pe","t":2021,"v":117.7},{"k":"pe","t":2021.014,"v":120.4},{"k":"pe","t":2021.027,"v":123.1},{"k":"pe","t":2021.041,"v":125.2},{"k":"pe","t":2021.062,"v":124.5},{"k":"pe","t":2021.075,"v":123.8},{"k":"pe","t":2021.096,"v":126.5},{"k":"pe","t":2021.11,"v":127.9},{"k":"pe","t":2021.13,"v":129.9},{"k":"pe","t":2021.144,"v":126.5},{"k":"pe","t":2021.158,"v":124.8},{"k":"pe","t":2021.171,"v":122.8},{"k":"pe","t":2021.185,"v":120.7},{"k":"pe","t":2021.205,"v":119.1},{"k":"pe","t":2021.226,"v":117.7},{"k":"pe","t":2021.24,"v":118.7},{"k":"pe","t":2021.26,"v":120.4},{"k":"pe","t":2021.288,"v":121.8},{"k":"pe","t":2021.315,"v":122.1},{"k":"pe","t":2021.336,"v":120.7},{"k":"pe","t":2021.349,"v":119.4},{"k":"pe","t":2021.377,"v":120.1},{"k":"pe","t":2021.397,"v":122.5},{"k":"pe","t":2021.418,"v":124.5},{"k":"pe","t":2021.438,"v":123.8},{"k":"pe","t":2021.459,"v":123.5},{"k":"pe","t":2021.479,"v":123.1},{"k":"pe","t":2021.5,"v":122.1},{"k":"pe","t":2021.527,"v":120.4},{"k":"pe","t":2021.548,"v":118.4},{"k":"pe","t":2021.562,"v":117},{"k":"pe","t":2021.582,"v":115.6},{"k":"pe","t":2021.603,"v":116.7},{"k":"pe","t":2021.623,"v":115.6},{"k":"pe","t":2021.651,"v":114.6},{"k":"pe","t":2021.678,"v":118.4},{"k":"pe","t":2021.699,"v":116.3},{"k":"pe","t":2021.719,"v":113.9},{"k":"pe","t":2021.74,"v":112.6},{"k":"pe","t":2021.76,"v":111.5},{"k":"pe","t":2021.788,"v":114.6},{"k":"pe","t":2021.801,"v":117},{"k":"pe","t":2021.822,"v":114.6},{"k":"pe","t":2021.842,"v":114.3},{"k":"pe","t":2021.87,"v":115.6},{"k":"pe","t":2021.89,"v":113.3},{"k":"pe","t":2021.911,"v":111.5},{"k":"pe","t":2021.938,"v":110.9},{"k":"pe","t":2021.959,"v":109.5},{"k":"pe","t":2021.986,"v":109.5},{"k":"pe","t":2022.014,"v":110.9},{"k":"pe","t":2022.027,"v":113.6},{"k":"pe","t":2022.048,"v":111.9},{"k":"pe","t":2022.068,"v":109.5},{"k":"pe","t":2022.096,"v":111.2},{"k":"pe","t":2022.14,"v":107.8},{"k":"pe","t":2022.153,"v":105.4},{"k":"pe","t":2022.167,"v":103.1},{"k":"pe","t":2022.174,"v":100.7},{"k":"pe","t":2022.188,"v":99.3},{"k":"pe","t":2022.201,"v":98},{"k":"pe","t":2022.222,"v":102.7},{"k":"pe","t":2022.242,"v":103.2},{"k":"pe","t":2022.263,"v":102.2},{"k":"pe","t":2022.284,"v":100.3},{"k":"pe","t":2022.297,"v":98},{"k":"pe","t":2022.311,"v":95.9},{"k":"pe","t":2022.338,"v":94.2},{"k":"pe","t":2022.352,"v":92.5},{"k":"pe","t":2022.366,"v":91.5},{"k":"pe","t":2022.386,"v":92.9},{"k":"pe","t":2022.4,"v":94.2},{"k":"pe","t":2022.414,"v":96.4},{"k":"pe","t":2022.427,"v":96.2},{"k":"pe","t":2022.441,"v":93.6},{"k":"pe","t":2022.455,"v":91.9},{"k":"pe","t":2022.468,"v":90.8},{"k":"pe","t":2022.496,"v":90},{"k":"pe","t":2022.516,"v":88.1},{"k":"pe","t":2022.537,"v":88.8},{"k":"pe","t":2022.558,"v":89.5},{"k":"pe","t":2022.592,"v":89.5},{"k":"pe","t":2022.612,"v":91.5},{"k":"pe","t":2022.647,"v":89.7},{"k":"pe","t":2022.667,"v":88.6},{"k":"pe","t":2022.688,"v":87.1},{"k":"pe","t":2022.708,"v":85.8},{"k":"pe","t":2022.722,"v":83.4},{"k":"pe","t":2022.736,"v":81.4},{"k":"pe","t":2022.749,"v":80.3},{"k":"pe","t":2022.77,"v":79},{"k":"pe","t":2022.79,"v":78.6},{"k":"pe","t":2022.811,"v":77.5},{"k":"pe","t":2022.825,"v":78.3},{"k":"pe","t":2022.838,"v":79.7},{"k":"pe","t":2022.852,"v":82.7},{"k":"pe","t":2022.859,"v":84.1},{"k":"pe","t":2022.873,"v":85.8},{"k":"pe","t":2022.893,"v":86.8},{"k":"pe","t":2022.914,"v":87.5},{"k":"pe","t":2022.934,"v":86.8},{"k":"pe","t":2022.955,"v":87.5},{"k":"pe","t":2022.968,"v":86.4},{"k":"pe","t":2022.989,"v":87.3},{"k":"pe","t":2023.01,"v":89.5},{"k":"pe","t":2023.023,"v":91.5},{"k":"pe","t":2023.037,"v":92.9},{"k":"pe","t":2023.058,"v":93.7},{"k":"pe","t":2023.078,"v":94.1},{"k":"pe","t":2023.092,"v":92.9},{"k":"pe","t":2023.112,"v":91.7},{"k":"pe","t":2023.126,"v":90.2},{"k":"pe","t":2023.146,"v":89},{"k":"pe","t":2023.167,"v":88.1},{"k":"pe","t":2023.181,"v":86.9},{"k":"pe","t":2023.194,"v":85.9},{"k":"pe","t":2023.208,"v":86.4},{"k":"pe","t":2023.229,"v":88.5},{"k":"pe","t":2023.249,"v":89.3},{"k":"pe","t":2023.27,"v":89.5},{"k":"pe","t":2023.29,"v":89.7},{"k":"pe","t":2023.304,"v":88.5},{"k":"pe","t":2023.318,"v":87.6},{"k":"pe","t":2023.345,"v":88.6},{"k":"pe","t":2023.366,"v":88.1},{"k":"pe","t":2023.386,"v":87.6},{"k":"pe","t":2023.4,"v":86.9},{"k":"pe","t":2023.414,"v":88.5},{"k":"pe","t":2023.427,"v":90.2},{"k":"pe","t":2023.448,"v":91.7},{"k":"pe","t":2023.462,"v":90.8},{"k":"pe","t":2023.482,"v":89.7},{"k":"pe","t":2023.503,"v":90.5},{"k":"pe","t":2023.523,"v":91.2},{"k":"pe","t":2023.544,"v":92.4},{"k":"pe","t":2023.564,"v":93.1},{"k":"pe","t":2023.585,"v":91.9},{"k":"pe","t":2023.599,"v":90.8},{"k":"pe","t":2023.612,"v":88.8},{"k":"pe","t":2023.633,"v":88},{"k":"pe","t":2023.653,"v":88.8},{"k":"pe","t":2023.674,"v":88.8},{"k":"pe","t":2023.695,"v":88.1},{"k":"pe","t":2023.715,"v":87.1},{"k":"pe","t":2023.729,"v":86.1},{"k":"pe","t":2023.742,"v":84.7},{"k":"pe","t":2023.763,"v":85.4},{"k":"pe","t":2023.784,"v":84.6},{"k":"pe","t":2023.797,"v":83.4},{"k":"pe","t":2023.818,"v":83.2},{"k":"pe","t":2023.838,"v":84.4},{"k":"pe","t":2023.845,"v":86.4},{"k":"pe","t":2023.859,"v":87.8},{"k":"pe","t":2023.873,"v":88.8},{"k":"pe","t":2023.9,"v":88.8},{"k":"pe","t":2023.921,"v":88.3},{"k":"pe","t":2023.942,"v":88.1},{"k":"pe","t":2023.955,"v":89.2},{"k":"pe","t":2023.968,"v":91.2},{"k":"pe","t":2023.982,"v":90.8},{"k":"pe","t":2024.003,"v":89.8},{"k":"pe","t":2024.016,"v":88.5},{"k":"pe","t":2024.037,"v":87.3},{"k":"pe","t":2024.051,"v":88.1},{"k":"pe","t":2024.072,"v":88.5},{"k":"pe","t":2024.085,"v":89.2},{"k":"pe","t":2024.105,"v":90.3},{"k":"pe","t":2024.126,"v":91.4},{"k":"pe","t":2024.147,"v":92.2},{"k":"pe","t":2024.174,"v":93.2},{"k":"pe","t":2024.192,"v":94.2},{"k":"pe","t":2024.212,"v":93.6},{"k":"pe","t":2024.233,"v":94.2},{"k":"pe","t":2024.253,"v":94.9},{"k":"pe","t":2024.274,"v":93.6},{"k":"pe","t":2024.288,"v":91.9},{"k":"pe","t":2024.301,"v":93.2},{"k":"pe","t":2024.315,"v":94.6},{"k":"pe","t":2024.336,"v":95.6},{"k":"pe","t":2024.356,"v":97.6},{"k":"pe","t":2024.377,"v":98.3},{"k":"pe","t":2024.397,"v":97.6},{"k":"pe","t":2024.418,"v":96.3},{"k":"pe","t":2024.438,"v":97.3},{"k":"pe","t":2024.459,"v":98.3},{"k":"pe","t":2024.479,"v":98.3},{"k":"pe","t":2024.5,"v":99.3},{"k":"pe","t":2024.521,"v":100.3},{"k":"pe","t":2024.541,"v":99.3},{"k":"pe","t":2024.562,"v":98.3},{"k":"pe","t":2024.575,"v":96.9},{"k":"pe","t":2024.596,"v":96.3},{"k":"pe","t":2024.616,"v":98.6},{"k":"pe","t":2024.63,"v":99},{"k":"pe","t":2024.651,"v":98.3},{"k":"pe","t":2024.671,"v":97.6},{"k":"pe","t":2024.685,"v":96.6},{"k":"pe","t":2024.699,"v":97.6},{"k":"pe","t":2024.705,"v":99},{"k":"pe","t":2024.712,"v":101.7},{"k":"pe","t":2024.719,"v":103.4},{"k":"pe","t":2024.726,"v":105.1},{"k":"pe","t":2024.733,"v":106.4},{"k":"pe","t":2024.74,"v":107.1},{"k":"pe","t":2024.753,"v":105.4},{"k":"pe","t":2024.767,"v":104.1},{"k":"pe","t":2024.788,"v":103.1},{"k":"pe","t":2024.808,"v":102},{"k":"pe","t":2024.829,"v":101.7},{"k":"pe","t":2024.842,"v":101.4},{"k":"pe","t":2024.856,"v":100},{"k":"pe","t":2024.87,"v":99.3},{"k":"pe","t":2024.89,"v":98.6},{"k":"pe","t":2024.911,"v":99},{"k":"pe","t":2024.932,"v":99.5},{"k":"pe","t":2024.945,"v":99.3},{"k":"pe","t":2024.966,"v":98.3},{"k":"pe","t":2024.986,"v":97.6},{"k":"pe","t":2025.007,"v":96.8},{"k":"pe","t":2025.027,"v":95.8},{"k":"pe","t":2025.041,"v":96.8},{"k":"pe","t":2025.062,"v":98.3},{"k":"pe","t":2025.082,"v":99.3},{"k":"pe","t":2025.096,"v":100},{"k":"pe","t":2025.116,"v":101.4},{"k":"pe","t":2025.13,"v":102.4},{"k":"pe","t":2025.151,"v":101.7},{"k":"pe","t":2025.171,"v":101.2},{"k":"pe","t":2025.192,"v":101.7},{"k":"pe","t":2025.205,"v":102.9},{"k":"pe","t":2025.219,"v":102},{"k":"pe","t":2025.233,"v":100.3},{"k":"pe","t":2025.247,"v":98.3},{"k":"pe","t":2025.253,"v":95.6},{"k":"pe","t":2025.263,"v":92.9},{"k":"pe","t":2025.267,"v":90.2},{"k":"pe","t":2025.274,"v":92.5},{"k":"pe","t":2025.281,"v":94.9},{"k":"pe","t":2025.295,"v":96.9},{"k":"pe","t":2025.301,"v":98.5}
    ],
    "notes": [
      {"k":"gw","t":2026.107,"v":135.9,"txt":"MSCI ACWI (USD)"},
      {"k":"ba","t":2026.107,"v":124.8,"txt":"iShares MSCI China A ETF (USD)"},
      {"k":"oc","t":2026.08,"v":115.3,"txt":"Shanghai"},
      {"k":"oc","t":2026.107,"v":111.4,"txt":"Composite"},
      {"k":"oc","t":2026.1,"v":107.5,"txt":"(USD)"},
      {"k":"ya","t":2026.08,"v":102.9,"txt":"Shanghai A"},
      {"k":"ya","t":2026.114,"v":99,"txt":"Index (USD"},
      {"k":"pe","t":2026.08,"v":91.7,"txt":"MSCI EM"},
      {"k":"pe","t":2026.114,"v":87.8,"txt":"index (USD"},
      {"k":"gc","t":2026.107,"v":79.3,"txt":"DeepSeek/"},
      {"k":"gc","t":2026.114,"v":75.4,"txt":"China tech rall"},
      {"k":"gc","t":2026.08,"v":68.6,"txt":"Sept ’24 stimulus:"},
      {"k":"gc","t":2026.08,"v":64.8,"txt":"ratecuts, property &"},
      {"k":"gc","t":2026.121,"v":60.9,"txt":"equity market support"}
    ]
  },
  "layer": [
    {
      "data": {"name": "series"},
      "mark": {"type": "line", "strokeWidth": 6, "strokeCap": "round", "strokeJoin": "round"},
      "encoding": {
        "x": {
          "field": "t", "type": "quantitative",
          "scale": {"domain": [2020, 2026.119], "nice": false, "zero": false},
          "axis": {
            "title": null, "grid": false,
            "values": [2020, 2021, 2022, 2023, 2024, 2025, 2026],
            "format": "d",
            "labelExpr": "datum.value < 2026 ? datum.label : ''",
            "labelOffset": 168, "labelFontSize": 55, "labelColor": "#9b9b9b", "labelFont": "Lato",
            "labelPadding": 31, "labelFlush": false, "labelBound": false, "labelOverlap": false,
            "tickSize": 34, "tickWidth": 2.5, "tickColor": "#a8a8a8",
            "domainColor": "#a8a8a8", "domainWidth": 4
          }
        },
        "y": {
          "field": "v", "type": "quantitative",
          "scale": {"domain": [57.46, 161.2], "nice": false, "zero": false},
          "axis": {
            "title": null, "grid": false,
            "values": [60, 80, 100, 120, 140, 160],
            "labelFontSize": 56, "labelColor": "#9b9b9b", "labelFont": "Lato", "labelPadding": 19,
            "tickSize": 25, "tickWidth": 2.5, "tickColor": "#a8a8a8",
            "domainColor": "#a8a8a8", "domainWidth": 2.5
          }
        },
        "color": {
          "field": "k", "type": "nominal",
          "scale": {"domain": ["ya", "gw", "gc", "ba", "oc", "pe"], "range": ["#dfbc58", "#a5a5a5", "#779a6b", "#4f81b3", "#e8902a", "#a194c6"]},
          "legend": {
            "title": null, "orient": "none", "legendX": 4, "legendY": 1581, "direction": "vertical",
            "symbolType": "M-1.35,0L1.35,0", "symbolSize": 1806, "symbolStrokeWidth": 7,
            "labelFontSize": 43, "labelColor": "#333333", "labelFont": "Lato", "labelOffset": 17, "labelLimit": 2000,
            "rowPadding": 0, "padding": 0,
            "labelExpr": "datum.label == 'ya' ? 'Rebase Shanghi SE A share (USD) to 100' : datum.label == 'gw' ? 'MSCI ACWI World' : datum.label == 'gc' ? 'Rebase Ishares MSCI China UCITS ETF USD ACC to 100' : datum.label == 'ba' ? 'Rebase Ishares MSCI China A UCITS ETF USD (ACC) to 100' : datum.label == 'oc' ? 'Rebase Shanghi SE Composite index - close: China (Mainland) (USD) to 100' : 'Rebase MSCI EM U$ to 100'"
          }
        },
        "strokeDash": {
          "field": "k", "type": "nominal",
          "scale": {"domain": ["ya", "gw", "gc", "ba", "oc", "pe"], "range": [[1, 0], [1, 0], [1, 0], [1, 0], [1, 0], [0.1, 11]]},
          "legend": {
            "title": null, "orient": "none", "legendX": 4, "legendY": 1581, "direction": "vertical",
            "symbolType": "M-1.35,0L1.35,0", "symbolSize": 1806, "symbolStrokeWidth": 7,
            "labelFontSize": 43, "labelColor": "#333333", "labelFont": "Lato", "labelOffset": 17, "labelLimit": 2000,
            "rowPadding": 0, "padding": 0,
            "labelExpr": "datum.label == 'ya' ? 'Rebase Shanghi SE A share (USD) to 100' : datum.label == 'gw' ? 'MSCI ACWI World' : datum.label == 'gc' ? 'Rebase Ishares MSCI China UCITS ETF USD ACC to 100' : datum.label == 'ba' ? 'Rebase Ishares MSCI China A UCITS ETF USD (ACC) to 100' : datum.label == 'oc' ? 'Rebase Shanghi SE Composite index - close: China (Mainland) (USD) to 100' : 'Rebase MSCI EM U$ to 100'"
          }
        }
      }
    },
    {
      "data": {"name": "series"},
      "transform": [{"filter": "datum.k == 'pe'"}],
      "mark": {"type": "line", "strokeWidth": 8.5, "strokeCap": "round", "strokeDash": [0.1, 11], "color": "#a194c6"},
      "encoding": {
        "x": {"field": "t", "type": "quantitative", "scale": {"domain": [2020, 2026.119], "nice": false, "zero": false}},
        "y": {"field": "v", "type": "quantitative", "scale": {"domain": [57.46, 161.2], "nice": false, "zero": false}}
      }
    },
    {
      "data": {"name": "notes"},
      "mark": {"type": "text", "align": "right", "baseline": "middle", "fontSize": 46, "font": "Lato"},
      "encoding": {
        "x": {"field": "t", "type": "quantitative", "scale": {"domain": [2020, 2026.119], "nice": false, "zero": false}},
        "y": {"field": "v", "type": "quantitative", "scale": {"domain": [57.46, 161.2], "nice": false, "zero": false}},
        "text": {"field": "txt"},
        "color": {
          "field": "k", "type": "nominal", "legend": null,
          "scale": {"domain": ["ya", "gw", "gc", "ba", "oc", "pe"], "range": ["#d8b650", "#a0a0a0", "#77996a", "#4f80b4", "#e8902a", "#a094c6"]}
        }
      }
    },
    {
      "data": {"values": [
        {"t": 2024.943, "v": 69.66, "t2": 2024.79, "v2": 76.2},
        {"t": 2025.265, "v": 78.31, "t2": 2025.132, "v2": 86.9}
      ]},
      "mark": {"type": "rule", "strokeWidth": 3.5, "color": "#779a6b"},
      "encoding": {
        "x": {"field": "t", "type": "quantitative", "scale": {"domain": [2020, 2026.119], "nice": false, "zero": false}},
        "y": {"field": "v", "type": "quantitative", "scale": {"domain": [57.46, 161.2], "nice": false, "zero": false}},
        "x2": {"field": "t2"},
        "y2": {"field": "v2"}
      }
    },
    {
      "data": {"values": [{"t": 2024.788, "v": 76.25}]},
      "mark": {"type": "point", "shape": "triangle-up", "filled": true, "size": 650, "angle": 330, "color": "#779a6b", "opacity": 1},
      "encoding": {
        "x": {"field": "t", "type": "quantitative", "scale": {"domain": [2020, 2026.119], "nice": false, "zero": false}},
        "y": {"field": "v", "type": "quantitative", "scale": {"domain": [57.46, 161.2], "nice": false, "zero": false}}
      }
    },
    {
      "data": {"values": [{"t": 2025.133, "v": 86.87}]},
      "mark": {"type": "point", "shape": "triangle-up", "filled": true, "size": 650, "angle": 339, "color": "#779a6b", "opacity": 1},
      "encoding": {
        "x": {"field": "t", "type": "quantitative", "scale": {"domain": [2020, 2026.119], "nice": false, "zero": false}},
        "y": {"field": "v", "type": "quantitative", "scale": {"domain": [57.46, 161.2], "nice": false, "zero": false}}
      }
    },
    {
      "data": {"values": [{"t": 2026.5, "v": 24.2, "txt": "Source: LSEG Datastream"}]},
      "mark": {"type": "text", "align": "right", "baseline": "middle", "fontSize": 43, "font": "Lato", "color": "#7a7a7a"},
      "encoding": {
        "x": {"field": "t", "type": "quantitative", "scale": {"domain": [2020, 2026.119], "nice": false, "zero": false}},
        "y": {"field": "v", "type": "quantitative", "scale": {"domain": [57.46, 161.2], "nice": false, "zero": false}},
        "text": {"field": "txt"}
      }
    }
  ],
  "resolve": {"scale": {"color": "independent"}, "legend": {"color": "independent"}}
}
